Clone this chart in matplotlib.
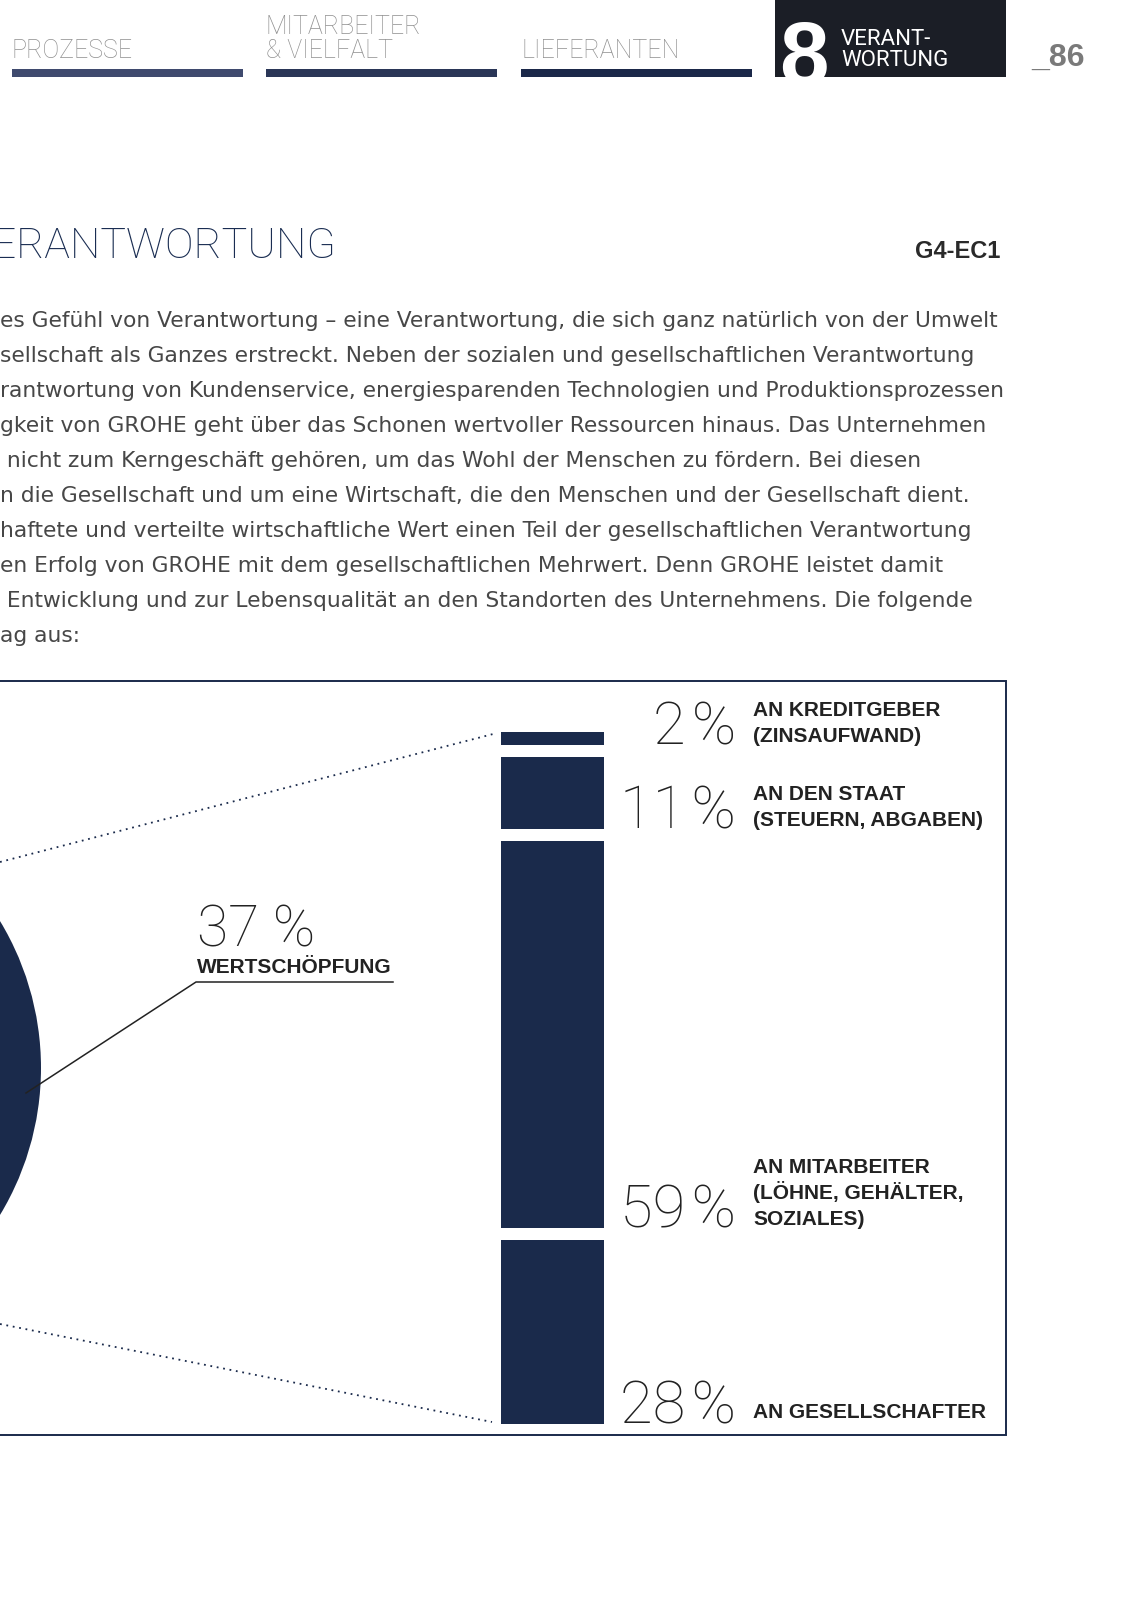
import numpy as np
import matplotlib.pyplot as plt
from matplotlib.patches import Rectangle

W, H = 1132, 1601

# --- data -------------------------------------------------------------------
pie_values = [37, 63]
pie_label = 'WERTSCHÖPFUNG'
shares = [2, 11, 59, 28]
share_labels = [['AN KREDITGEBER', '(ZINSAUFWAND)'],
                ['AN DEN STAAT', '(STEUERN, ABGABEN)'],
                ['AN MITARBEITER', '(LÖHNE, GEHÄLTER,', 'SOZIALES)'],
                ['AN GESELLSCHAFTER']]
tabs = [['PROZESSE'], ['MITARBEITER', '& VIELFALT'], ['LIEFERANTEN']]
tab_colors = ['#3f4a6e', '#2a3657', '#1b2849']
paragraph = [
    'es Gefühl von Verantwortung – eine Verantwortung, die sich ganz natürlich von der Umwelt',
    'sellschaft als Ganzes erstreckt. Neben der sozialen und gesellschaftlichen Verantwortung',
    'rantwortung von Kundenservice, energiesparenden Technologien und Produktionsprozessen',
    'gkeit von GROHE geht über das Schonen wertvoller Ressourcen hinaus. Das Unternehmen',
    ' nicht zum Kerngeschäft gehören, um das Wohl der Menschen zu fördern. Bei diesen',
    'n die Gesellschaft und um eine Wirtschaft, die den Menschen und der Gesellschaft dient.',
    'haftete und verteilte wirtschaftliche Wert einen Teil der gesellschaftlichen Verantwortung',
    'en Erfolg von GROHE mit dem gesellschaftlichen Mehrwert. Denn GROHE leistet damit',
    ' Entwicklung und zur Lebensqualität an den Standorten des Unternehmens. Die folgende',
    'ag aus:',
]

NAVY = '#1a2a4b'
LIGHT = ['Roboto', 'DejaVu Sans']
BODY = ['DejaVu Sans']
BOLD = ['Liberation Sans', 'DejaVu Sans']

fig = plt.figure(figsize=(W / 100, H / 100), dpi=100)
fig.patch.set_facecolor('white')

def px_axes(x0, y0, x1, y1, **kw):
    # axes placed by pixel box (top-left origin)
    return fig.add_axes([x0 / W, 1 - y1 / H, (x1 - x0) / W, (y1 - y0) / H], **kw)

# overlay in pixel coordinates
ov = px_axes(0, 0, W, H)
ov.set_xlim(0, W)
ov.set_ylim(H, 0)
ov.axis('off')
ov.set_zorder(3)
ov.patch.set_alpha(0)

# --- header -----------------------------------------------------------------
tab_x = [12, 266, 521]
for lines, x, c in zip(tabs, tab_x, tab_colors):
    ov.add_patch(Rectangle((x, 69), 231, 8, color=c, lw=0))
    for i, s in enumerate(lines[::-1]):
        ov.text(x, 58 - 24 * i, s, family=LIGHT, weight='light', fontsize=18,
                color='#8f8f8f', va='baseline')
box = Rectangle((775, 0), 231, 77, color='#1b1e26', lw=0)
ov.add_patch(box)
t8 = ov.text(779, 84, '8', family=BOLD, weight='bold', fontsize=64,
             color='white', va='baseline')
t8.set_clip_path(box)
ov.text(841, 45, 'VERANT-', family=LIGHT, fontsize=16, color='white', va='baseline')
ov.text(841, 66, 'WORTUNG', family=LIGHT, fontsize=16, color='white', va='baseline')
ov.text(1031, 66, '_86', family=BOLD, weight='bold', fontsize=23,
        color='#7a7a7a', va='baseline')

# --- title & text -----------------------------------------------------------
ov.text(336, 258, 'VERANTWORTUNG', family=LIGHT, weight='light', fontsize=31,
        color='#1a2d52', va='baseline', ha='right')
ov.text(1000, 258, 'G4-EC1', family=BOLD, weight='bold', fontsize=17,
        color='#2a2a2a', va='baseline', ha='right')
for i, s in enumerate(paragraph):
    ov.text(0, 327 + 35 * i, s, family=BODY, fontsize=15.7,
            color='#474747', va='baseline')

# chart frame
ov.add_patch(Rectangle((-10, 681), 1016, 754, fill=False, ec=NAVY, lw=1.4))

# --- pie (only right part visible) ----------------------------------------
cx, cy, r = -243, 1068, 284
pax = px_axes(cx - r, cy - r, cx + r, cy + r)
pax.pie(pie_values, colors=[NAVY, '#aab3c6'], startangle=-pie_values[0] * 3.6 / 2,
        counterclock=True, radius=1, wedgeprops=dict(lw=0))
pax.set_xlim(-1, 1)
pax.set_ylim(-1, 1)
pax.set_aspect('auto')
pax.axis('off')

ov.plot([26, 196, 393], [1093, 982, 982], color='#222222', lw=1.1)
ov.text(197, 946, f'{pie_values[0]} %', family=LIGHT, weight='light', fontsize=41,
        color='#222222', va='baseline')
ov.text(197, 973, pie_label, family=BOLD, weight='bold', fontsize=15,
        color='#222222', va='baseline')

# --- stacked bar ------------------------------------------------------------
gap = 1.83
bax = px_axes(501, 732, 604, 1424)
starts = np.cumsum([0] + shares[:-1]) + gap * np.arange(len(shares))
bax.bar(0, shares, bottom=starts, width=1, color=NAVY, lw=0)
bax.set_xlim(-0.5, 0.5)
bax.set_ylim(sum(shares) + gap * (len(shares) - 1), 0)
bax.axis('off')

def to_px(ax, x, y):
    dx, dy = ax.transData.transform((x, y))
    return dx, H - dy

# dotted connectors from the pie to the bar ends
x_top, y_top = to_px(bax, -0.5, 0)
x_bot, y_bot = to_px(bax, -0.5, sum(shares) + gap * 3)
ov.plot([0, x_top - 4], [862, y_top + 1], color=NAVY, lw=1.3, ls=(0, (1, 2.6)))
ov.plot([0, x_bot - 9], [1324, y_bot - 2], color=NAVY, lw=1.3, ls=(0, (1, 2.6)))

for v, s0, lab in zip(shares, starts, share_labels):
    _, yb = to_px(bax, 0, s0 + v)
    ov.text(736, yb - 1, f'{v}\u200a%', family=LIGHT, weight='light', fontsize=43,
            color='#222222', va='baseline', ha='right')
    n = len(lab)
    for j, s in enumerate(lab):
        off = 3 if n == 1 else 0
        ov.text(753, yb - 3 - off - 26 * (n - 1 - j), s, family=BOLD, weight='bold',
                fontsize=15, color='#222222', va='baseline')

fig.savefig('out.png', dpi=100, facecolor='white')
